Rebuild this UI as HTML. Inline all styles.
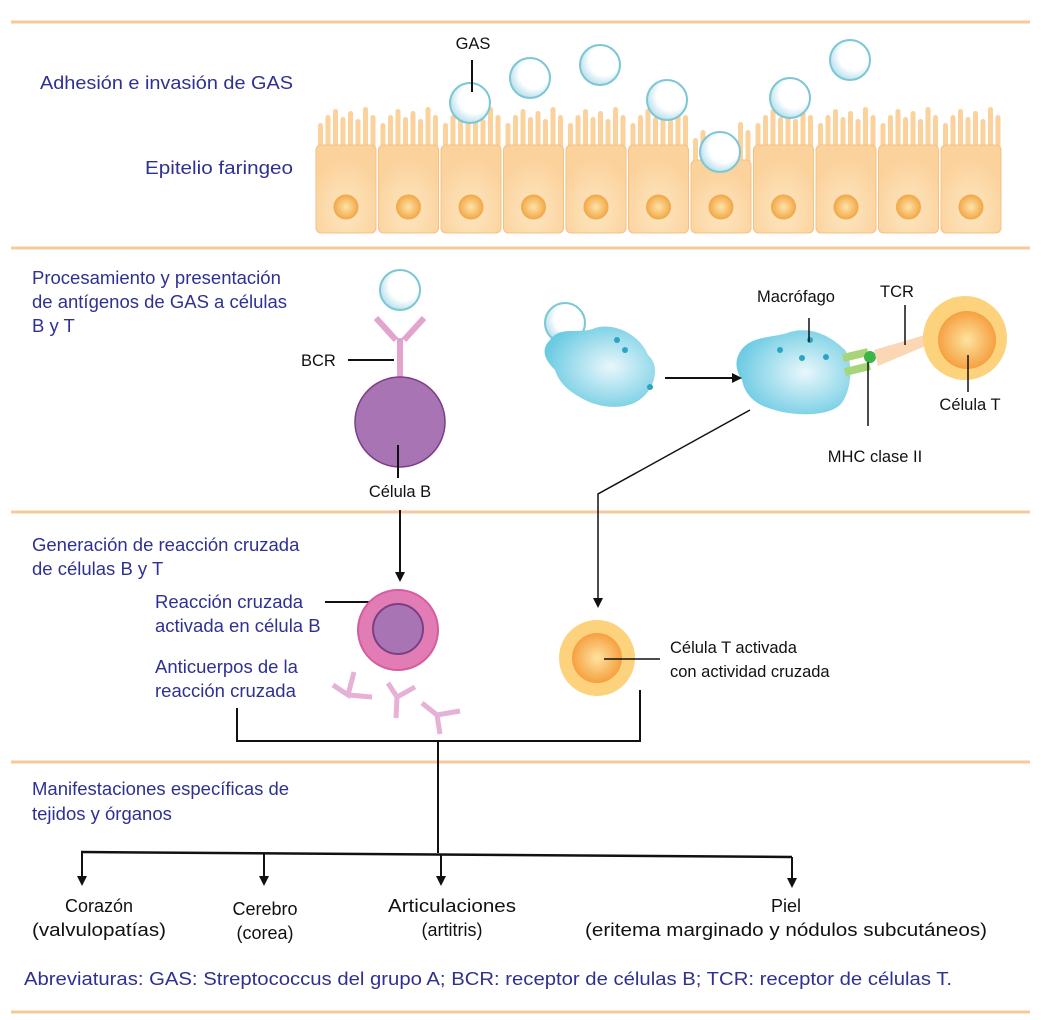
<!DOCTYPE html>
<html><head><meta charset="utf-8"><style>
html,body{margin:0;padding:0;background:#fff;}
svg{display:block;}
.b{font-family:"Liberation Sans",sans-serif;fill:#2e3192;font-size:18.5px;}
.k{font-family:"Liberation Sans",sans-serif;fill:#111;font-size:16.5px;}
.m{font-family:"Liberation Sans",sans-serif;fill:#111;font-size:18px;}
</style></head><body>
<svg id="s" width="1041" height="1020" viewBox="0 0 1041 1020" xmlns="http://www.w3.org/2000/svg">
<defs>
<radialGradient id="bac" cx="0.6" cy="0.4" r="0.6"><stop offset="0.6" stop-color="#fff"/><stop offset="1" stop-color="#bfe3ee"/></radialGradient>
<radialGradient id="nuc" cx="0.5" cy="0.5" r="0.5"><stop offset="0" stop-color="#fde3a8"/><stop offset="1" stop-color="#f3a94a"/></radialGradient>
<radialGradient id="cell" cx="0.5" cy="0.75" r="0.6"><stop offset="0" stop-color="#fde6c0"/><stop offset="1" stop-color="#fbd29c"/></radialGradient>
<radialGradient id="mac" cx="0.6" cy="0.5" r="0.6"><stop offset="0" stop-color="#e9f7fb"/><stop offset="1" stop-color="#6ccbe3"/></radialGradient>
<radialGradient id="tc" cx="0.5" cy="0.5" r="0.5"><stop offset="0" stop-color="#fde3a0"/><stop offset="1" stop-color="#f6a040"/></radialGradient>
<marker id="ar" markerWidth="10" markerHeight="10" refX="8" refY="5" orient="auto" markerUnits="userSpaceOnUse"><path d="M0,0 L10,5 L0,10 z" fill="#111"/></marker>
</defs>
<g stroke="#f7c99a" stroke-width="3">
<line x1="11" y1="22" x2="1030" y2="22"/><line x1="11" y1="248" x2="1030" y2="248"/>
<line x1="11" y1="512" x2="1030" y2="512"/><line x1="11" y1="762" x2="1030" y2="762"/>
<line x1="11" y1="1012" x2="1030" y2="1012"/></g>
<g id="epi"></g>
<text class="b" x="40" y="89" textLength="253" lengthAdjust="spacingAndGlyphs">Adhesión e invasión de GAS</text>
<text class="b" x="145" y="174" textLength="148" lengthAdjust="spacingAndGlyphs">Epitelio faringeo</text>
<text class="k" x="473" y="49" text-anchor="middle">GAS</text>
<line x1="472" y1="60" x2="472" y2="92" stroke="#111" stroke-width="2"/>
<text class="b" x="32" y="284">Procesamiento y presentación</text>
<text class="b" x="32" y="308">de antígenos de GAS a células</text>
<text class="b" x="32" y="332">B y T</text>
<circle cx="400" cy="290" r="20" fill="url(#bac)" stroke="#7cc6d6" stroke-width="2"/>
<g stroke="#e2a3cf" stroke-width="6" fill="none"><line x1="376" y1="318" x2="396" y2="340"/><line x1="424" y1="318" x2="404" y2="340"/><line x1="400" y1="338" x2="400" y2="380"/></g>
<circle cx="400" cy="422" r="45" fill="#a974b3" stroke="#7a3f86" stroke-width="1.5"/>
<text class="k" x="301" y="366">BCR</text>
<line x1="348" y1="360" x2="394" y2="360" stroke="#111" stroke-width="2"/>
<line x1="398" y1="445" x2="398" y2="478" stroke="#111" stroke-width="2"/>
<text class="k" x="400" y="497" text-anchor="middle">Célula B</text>
<circle cx="565" cy="323" r="20" fill="url(#bac)" stroke="#7cc6d6" stroke-width="2"/>
<path d="M550,340 C560,325 580,335 595,328 C615,322 640,335 648,355 C660,365 655,385 645,395 C630,412 600,408 585,400 C570,392 560,385 555,370 C545,360 540,350 550,340z" fill="url(#mac)"/>
<path d="M740,352 C750,335 775,338 790,332 C815,325 835,340 845,350 C855,365 850,395 840,405 C825,418 790,415 775,410 C755,405 745,395 742,380 C735,370 735,360 740,352z" fill="url(#mac)"/>
<g fill="#2aa5c4"><circle cx="810" cy="340" r="3"/><circle cx="826" cy="357" r="3"/><circle cx="802" cy="358" r="3"/><circle cx="780" cy="350" r="3"/><circle cx="617" cy="340" r="3"/><circle cx="625" cy="350" r="3"/><circle cx="650" cy="387" r="3"/></g>
<g stroke="#a8d57a" stroke-width="8"><line x1="843" y1="358" x2="868" y2="352"/><line x1="845" y1="372" x2="870" y2="366"/></g>
<circle cx="870" cy="357" r="6" fill="#39b54a"/>
<path d="M874,350 L925,335 L928,345 L878,366z" fill="#fbd7b5"/>
<circle cx="965" cy="338" r="42" fill="#fcd27d"/>
<circle cx="967" cy="340" r="29" fill="url(#tc)"/>
<text class="k" x="796" y="302" text-anchor="middle">Macrófago</text>
<line x1="809" y1="318" x2="809" y2="342" stroke="#111" stroke-width="1.5"/>
<text class="k" x="897" y="297" text-anchor="middle">TCR</text>
<line x1="905" y1="305" x2="905" y2="345" stroke="#111" stroke-width="1.5"/>
<line x1="968" y1="355" x2="968" y2="392" stroke="#111" stroke-width="1.5"/>
<text class="k" x="970" y="410" text-anchor="middle">Célula T</text>
<line x1="868" y1="362" x2="868" y2="426" stroke="#111" stroke-width="1.5"/>
<text class="k" x="875" y="462" text-anchor="middle">MHC clase II</text>
<line x1="665" y1="378" x2="740" y2="378" stroke="#111" stroke-width="2" marker-end="url(#ar)"/>
<polyline points="750,410 598,494 598,606" fill="none" stroke="#111" stroke-width="1.5" marker-end="url(#ar)"/>
<text class="b" x="32" y="551">Generación de reacción cruzada</text>
<text class="b" x="32" y="575">de células B y T</text>
<line x1="400" y1="510" x2="400" y2="580" stroke="#111" stroke-width="2" marker-end="url(#ar)"/>
<text class="b" x="155" y="608">Reacción cruzada</text>
<text class="b" x="155" y="632">activada en célula B</text>
<text class="b" x="155" y="673">Anticuerpos de la</text>
<text class="b" x="155" y="697">reacción cruzada</text>
<line x1="325" y1="602" x2="378" y2="602" stroke="#111" stroke-width="2"/>
<circle cx="398" cy="630" r="40" fill="#e17cb4" stroke="#d65ca0" stroke-width="2"/>
<circle cx="398" cy="629" r="25" fill="#a974b3" stroke="#7a3f86" stroke-width="2"/>
<g stroke="#e6b1d6" stroke-width="5" fill="none">
<path d="M333,685 L348,695 L354,672 M348,695 L372,697"/>
<path d="M388,683 L397,697 L415,687 M397,697 L396,718"/>
<path d="M422,703 L437,715 L460,711 M437,715 L440,734"/></g>
<circle cx="597" cy="658" r="38" fill="#fcd27d"/>
<circle cx="597" cy="658" r="25" fill="url(#tc)"/>
<line x1="604" y1="659" x2="660" y2="659" stroke="#111" stroke-width="1.5"/>
<text class="k" x="670" y="653">Célula T activada</text>
<text class="k" x="670" y="677">con actividad cruzada</text>
<polyline points="237,708 237,741 640,741 640,690" fill="none" stroke="#111" stroke-width="2"/>
<line x1="438" y1="741" x2="438" y2="853" stroke="#111" stroke-width="2"/>
<text class="b" x="32" y="795">Manifestaciones específicas de</text>
<text class="b" x="32" y="820">tejidos y órganos</text>
<line x1="81" y1="852" x2="792" y2="857" stroke="#111" stroke-width="2.5"/>
<g stroke="#111" stroke-width="2" marker-end="url(#ar)">
<line x1="82" y1="852" x2="82" y2="884"/><line x1="264" y1="853" x2="264" y2="884"/>
<line x1="441" y1="854" x2="441" y2="884"/><line x1="792" y1="857" x2="792" y2="886"/></g>
<g text-anchor="middle">
<text x="99" y="912" class="m">Corazón</text>
<text x="99" y="936" class="m" textLength="134" lengthAdjust="spacingAndGlyphs">(valvulopatías)</text>
<text x="265" y="915" class="m">Cerebro</text>
<text x="265" y="939" class="m">(corea)</text>
<text x="452" y="912" class="m" textLength="128" lengthAdjust="spacingAndGlyphs">Articulaciones</text>
<text x="452" y="936" class="m">(artitris)</text>
<text x="786" y="912" class="m">Piel</text>
<text x="786" y="936" class="m" textLength="402" lengthAdjust="spacingAndGlyphs">(eritema marginado y nódulos subcutáneos)</text>
</g>
<text class="b" x="24" y="985" style="font-size:18px" textLength="928" lengthAdjust="spacingAndGlyphs">Abreviaturas: GAS: Streptococcus del grupo A; BCR: receptor de células B; TCR: receptor de células T.</text>
</svg>
<script>
(function(){
var g=document.getElementById('epi'),h='';
for(var i=0;i<11;i++){
 var x=315+i*62.5,top=(i==6)?160:145;
 for(var j=0;j<8;j++){var mx=x+3+j*7.5,mh=[22,30,36,28,34,26,38,30][j];
  if(i==6&&j>1&&j<6)continue;
  h+='<rect x="'+mx+'" y="'+(top-mh)+'" width="5" height="'+(mh+4)+'" rx="2.5" fill="#fbd29c"/>';}
 h+='<rect x="'+(x+1)+'" y="'+top+'" width="60" height="'+(233-top)+'" rx="5" fill="url(#cell)" stroke="#f4c282" stroke-width="1"/>';
 h+='<circle cx="'+(x+31)+'" cy="207" r="12" fill="url(#nuc)" stroke="#f3a94a"/>';
}
var b=[[470,103],[530,78],[600,65],[667,100],[720,152],[790,98],[850,60]];
b.forEach(function(p){h+='<circle cx="'+p[0]+'" cy="'+p[1]+'" r="20" fill="url(#bac)" stroke="#7cc6d6" stroke-width="2"/>';});
g.innerHTML=h;
})();
</script>
</body></html>
